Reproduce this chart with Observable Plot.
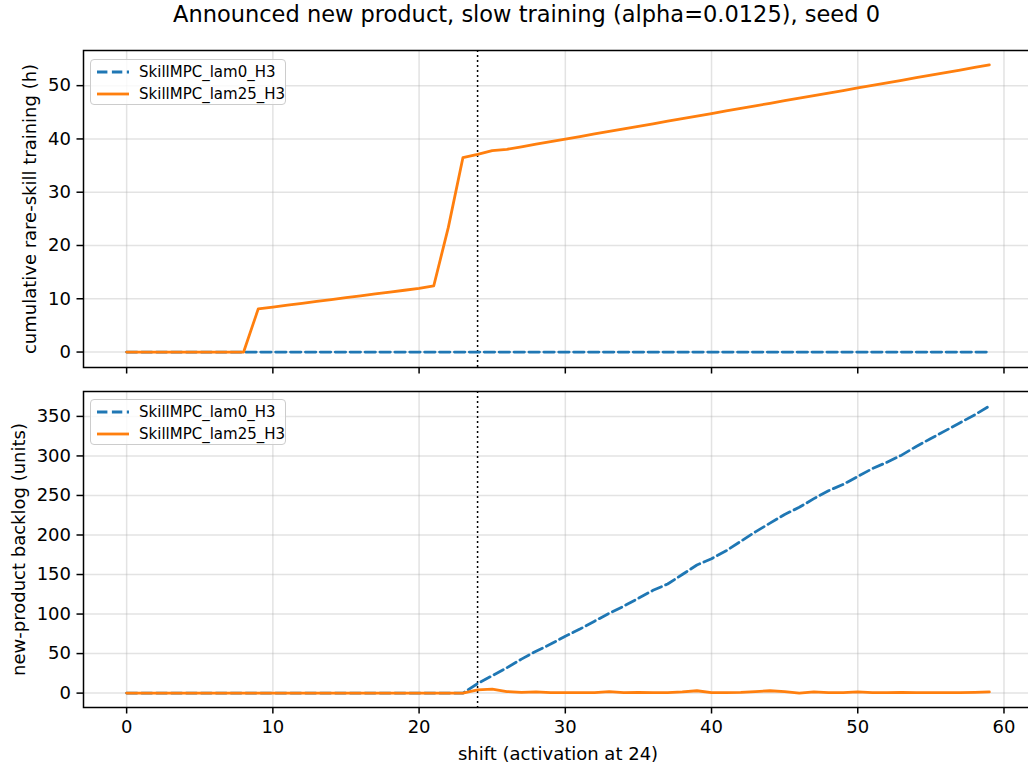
<!DOCTYPE html>
<html>
<head>
<meta charset="utf-8">
<script src="https://cdn.jsdelivr.net/npm/d3@7"></script>
<script src="https://cdn.jsdelivr.net/npm/@observablehq/plot@0.6"></script>
<style>
  body { margin: 0; background: #fff; font-family: "DejaVu Sans", sans-serif; }
  #wrap { position: relative; width: 1028px; height: 768px; overflow: hidden; background: #fff; }
  #title { position: absolute; left: 0; top: 1px; width: 1053px; text-align: center; font-size: 22.5px; line-height: 26px; color: #000; white-space: nowrap; }
  .chart { position: absolute; left: 0; }
  .legend { position: absolute; left: 90px; width: 196px; height: 46px; border: 1px solid #cccccc; border-radius: 4px; background: rgba(255,255,255,0.8); font-size: 15px; color: #000; box-sizing: border-box; }
  .legend .row { position: absolute; left: 0; height: 20px; display: flex; align-items: center; }
  .legend svg { margin-left: 6px; margin-right: 10px; }
</style>
</head>
<body>
<div id="wrap">
  <div id="title">Announced new product, slow training (alpha=0.0125), seed 0</div>
</div>
<script>
// ---- data ----
const shifts = [0,1,2,3,4,5,6,7,8,9,10,11,12,13,14,15,16,17,18,19,20,21,22,23,24,25,26,27,28,29,30,31,32,33,34,35,36,37,38,39,40,41,42,43,44,45,46,47,48,49,50,51,52,53,54,55,56,57,58,59];
const seriesNames = ["SkillMPC_lam0_H3", "SkillMPC_lam25_H3"];
const seriesColors = ["#1f77b4", "#ff7f0e"];

// cumulative rare-skill training (h)
const trainLam0 = [0,0,0,0,0,0,0,0,0,0,0,0,0,0,0,0,0,0,0,0,0,0,0,0,0,0,0,0,0,0,0,0,0,0,0,0,0,0,0,0,0,0,0,0,0,0,0,0,0,0,0,0,0,0,0,0,0,0,0,0];
const trainLam25 = [0,0,0,0,0,0,0,0,0,8.1,8.45,8.8,9.15,9.5,9.85,10.2,10.55,10.9,11.25,11.6,11.95,12.4,23.4,36.5,37.1,37.8,38.05,38.53,39.01,39.49,39.97,40.45,40.93,41.41,41.89,42.37,42.85,43.33,43.81,44.29,44.77,45.25,45.73,46.21,46.69,47.17,47.65,48.13,48.61,49.09,49.57,50.05,50.53,51.01,51.49,51.97,52.45,52.93,53.41,53.89];

// new-product backlog (units)
const backlogLam0 = [0,0,0,0,0,0,0,0,0,0,0,0,0,0,0,0,0,0,0,0,0,0,0,0,12,22,32,43,53,62,72,81,91,101,110,120,130,138,150,162,170,180,192,204,215,226,235,246,256,264,274,284,292,301,312,322,332,342,352,363];
const backlogLam25 = [0,0,0,0,0,0,0,0,0,0,0,0,0,0,0,0,0,0,0,0,0,0,0,0,4,5,2,1,1.5,0.5,0.5,0.5,0.5,2,0.5,1,0.5,0.5,1.5,3,0.5,0.5,1,2,3,2,0,1.5,0.5,0.5,1.5,0.5,0.5,1,0.5,0.5,0.5,0.5,1,1.5];

const xTicks = [0,10,20,30,40,50,60];
const topTicks = [0,10,20,30,40,50];
const bottomTicks = [0,50,100,150,200,250,300,350];
const activationShift = [24];
const xLabel = "shift (activation at 24)";
const topLabel = "cumulative rare-skill training (h)";
const bottomLabel = "new-product backlog (units)";

function rows(ys) { return shifts.map((s, i) => ({x: s, y: ys[i]})); }

function panel({height, marginBottom, yDomain, yTicks, yLabel, labelOffset, showX, a, b}) {
  const axisStyle = {tickSize: 6.5, tickPadding: 6, strokeWidth: 1.5};
  return Plot.plot({
    width: 1028,
    height,
    marginLeft: 83,
    marginRight: -4,
    marginTop: 18,
    marginBottom,
    style: {fontFamily: "DejaVu Sans", fontSize: "18px", color: "#000", background: "transparent", overflow: "visible"},
    x: {domain: [-2.95, 61.95]},
    y: {domain: yDomain},
    marks: [
      Plot.gridX(xTicks, {stroke: "#b0b0b0", strokeOpacity: 0.35, strokeWidth: 1.5}),
      Plot.gridY(yTicks, {stroke: "#b0b0b0", strokeOpacity: 0.35, strokeWidth: 1.5}),
      Plot.ruleX(activationShift, {stroke: "#000", strokeWidth: 1.5, strokeDasharray: "1.9,3.1"}),
      Plot.line(rows(a), {x: "x", y: "y", stroke: seriesColors[0], strokeWidth: 2.8, strokeDasharray: "10.4,4.5"}),
      Plot.line(rows(b), {x: "x", y: "y", stroke: seriesColors[1], strokeWidth: 2.8}),
      Plot.frame({stroke: "#000", strokeWidth: 1.5}),
      showX
        ? Plot.axisX(xTicks, {...axisStyle, label: xLabel, labelAnchor: "center", labelOffset: 52, labelArrow: "none"})
        : Plot.axisX(xTicks, {...axisStyle, tickFormat: () => "", label: null}),
      Plot.axisY(yTicks, {...axisStyle, label: yLabel, labelAnchor: "center", labelOffset, labelArrow: "none"})
    ]
  });
}

const wrap = document.getElementById("wrap");

const topChart = panel({height: 341, marginBottom: 6, yDomain: [-2.9, 56.6], yTicks: topTicks, yLabel: topLabel, labelOffset: 60, showX: false, a: trainLam0, b: trainLam25});
topChart.classList.add("chart");
topChart.style.top = "32px";
wrap.appendChild(topChart);

const bottomChart = panel({height: 395, marginBottom: 61, yDomain: [-18.2, 381.5], yTicks: bottomTicks, yLabel: bottomLabel, labelOffset: 71, showX: true, a: backlogLam0, b: backlogLam25});
bottomChart.classList.add("chart");
bottomChart.style.top = "373px";
wrap.appendChild(bottomChart);

function legend(topPx) {
  const div = document.createElement("div");
  div.className = "legend";
  div.style.top = topPx + "px";
  seriesNames.forEach((name, i) => {
    const row = document.createElement("div");
    row.className = "row";
    row.style.top = (i === 0 ? 2 : 24) + "px";
    const dash = i === 0 ? 'stroke-dasharray="10.4,4.5"' : "";
    row.innerHTML = `<svg width="32" height="6"><line x1="0" y1="3" x2="32" y2="3" stroke="${seriesColors[i]}" stroke-width="2.8" ${dash}/></svg><span>${name}</span>`;
    div.appendChild(row);
  });
  wrap.appendChild(div);
}
legend(59);
legend(399);
</script>
</body>
</html>
